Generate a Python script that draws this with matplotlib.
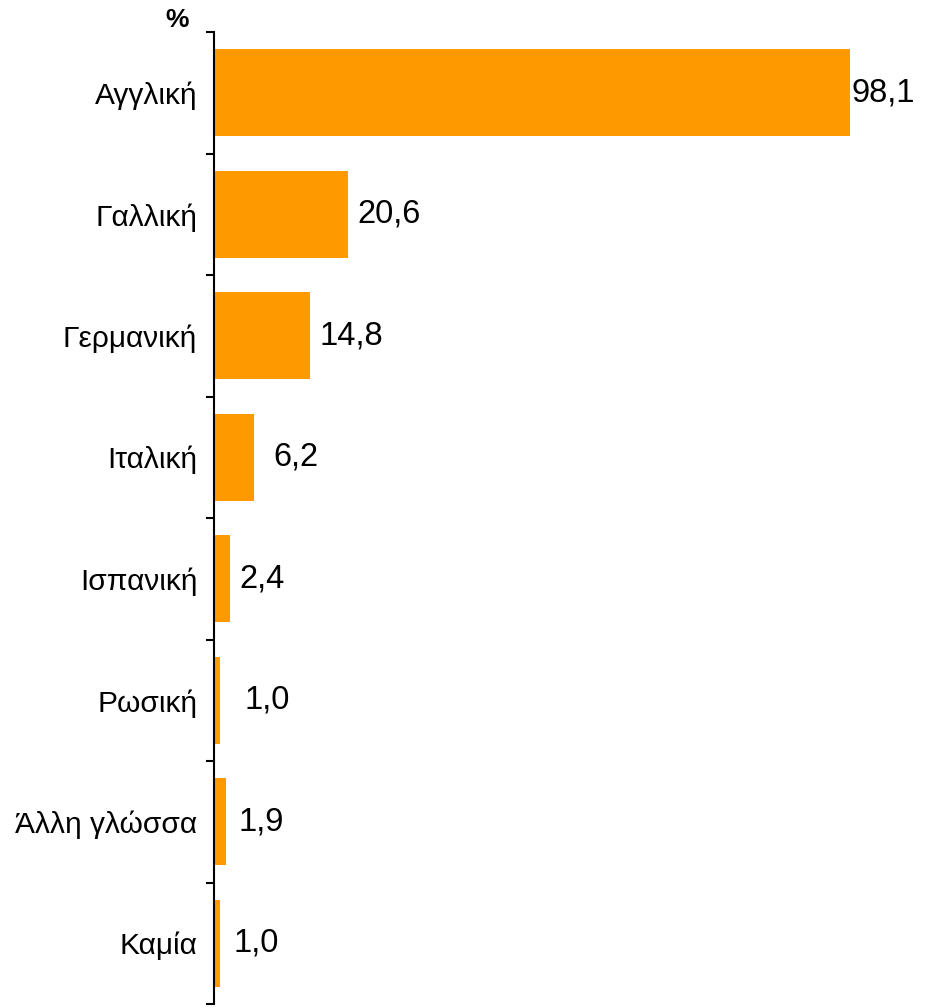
import numpy as np
import matplotlib
matplotlib.use('Agg')
import matplotlib.pyplot as plt

# Data
categories = ['Αγγλική', 'Γαλλική', 'Γερμανική', 'Ιταλική', 'Ισπανική',
              'Ρωσική', 'Άλλη γλώσσα', 'Καμία']
values = [98.1, 20.6, 14.8, 6.2, 2.4, 1.0, 1.9, 1.0]
value_labels = ['98,1', '20,6', '14,8', '6,2', '2,4', '1,0', '1,9', '1,0']

# label offsets in points (as in the original layout)
label_offsets = [1.5, 7, 7, 14, 7, 17, 9, 9.5]

plt.rcParams['font.family'] = ['Liberation Sans', 'DejaVu Sans']

fig = plt.figure(figsize=(9.29, 10.08), dpi=100)
ax = fig.add_axes([214 / 929, 4 / 1008, 715 / 929, 972 / 1008])

n = len(categories)
y = np.arange(n)
ax.barh(y, values, height=0.72, color='#FF9900', left=0)

ax.set_ylim(n - 0.5, -0.5)
ax.set_xlim(0, 110.3)

for yi, v, lab, off in zip(y, values, value_labels, label_offsets):
    ax.annotate(lab, (v, yi), xytext=(off, 0), textcoords='offset points',
                va='center', ha='left', fontsize=23.5, color='black')

# ticks at category boundaries, labels at centres
ax.set_yticks(np.arange(-0.5, n, 1.0))
ax.set_yticklabels([])
ax.set_yticks(y, minor=True)
ax.set_yticklabels(categories, minor=True, fontsize=21.5)
ax.tick_params(axis='y', which='major', length=6, width=1.5, direction='out')
ax.tick_params(axis='y', which='minor', length=0, pad=12)
ax.set_xticks([])

for s in ['top', 'right', 'bottom']:
    ax.spines[s].set_visible(False)
ax.spines['left'].set_linewidth(1.5)

fig.text(177 / 929, 1 - 20 / 1008, '%', fontsize=19, fontweight='bold',
         ha='center', va='center')

fig.savefig('out.png', dpi=100)
